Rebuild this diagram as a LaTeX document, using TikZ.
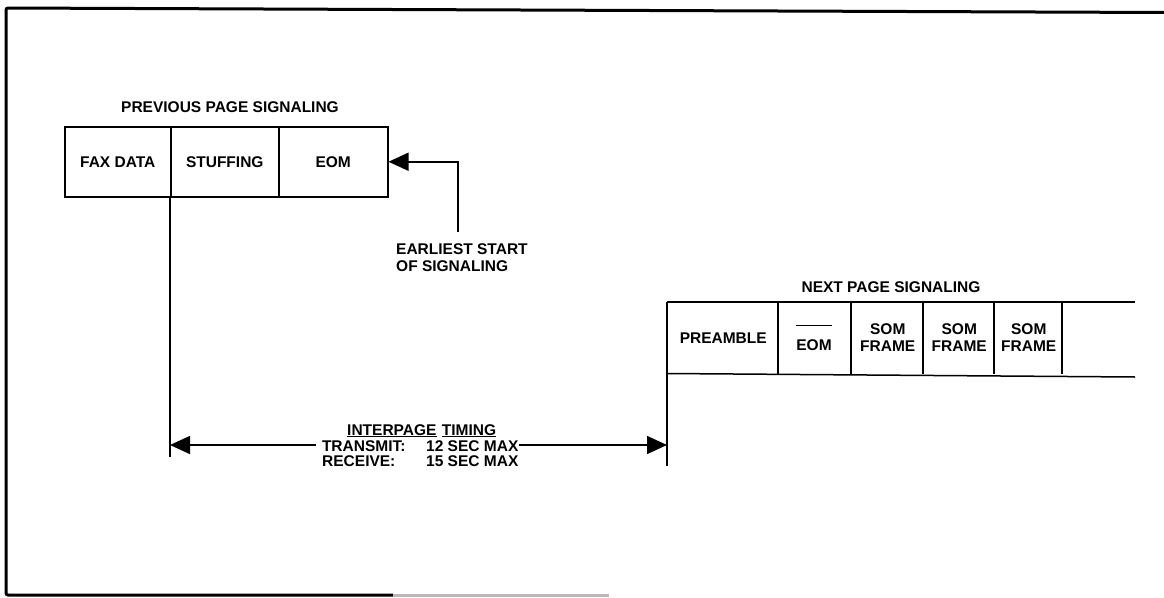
\documentclass[tikz,border=0pt]{standalone}
\usepackage{fontspec}
\setmainfont{Liberation Sans}
\usetikzlibrary{arrows.meta}
\begin{document}
\begin{tikzpicture}[x=1pt,y=-1pt,
  txt/.style={font=\fontsize{15.5}{17}\selectfont\bfseries, inner sep=0pt, align=center},
  cell/.style={draw, line width=1.5pt, minimum height=70pt, inner sep=0pt, anchor=north west,
               font=\fontsize{15.5}{17}\selectfont\bfseries, align=center},
  ncell/.style={cell, draw=none},
  rule/.style={line width=1.5pt},
  frame/.style={line width=3pt},
  arr/.style={line width=1.5pt, -{Triangle[length=20pt,width=18pt]}},
  tim/.style={font=\fontsize{15.5}{15}\selectfont\bfseries, inner sep=0pt},
  uline/.style={line width=1.2pt}
]
\useasboundingbox (0,0) rectangle (1164,597);

% outer frame (open on the right)
\draw[frame, rounded corners=2pt] (1164,12.5) -- (6,8) -- (6,595) -- (393,595);
\draw[frame, gray!55] (393,595) -- (609,595);

% previous page signaling
\node[txt] (ptitle) at (230,107) {PREVIOUS PAGE SIGNALING};
\node[cell, minimum width=106pt] (fax) at (64,126) {FAX DATA};
\node[cell, minimum width=108pt] (stuff) at (170,126) {STUFFING};
\node[cell, minimum width=109pt] (eom) at (278,126) {EOM};

% earliest start arrow
\coordinate (es) at (458,232);
\draw[arr] (es) |- (eom.east);
\node[txt, align=left, anchor=north west] (earl) at (396,243) {EARLIEST START\\OF SIGNALING};

% next page signaling
\node[txt] (ntitle) at (891,287) {NEXT PAGE SIGNALING};
\node[ncell, minimum width=111pt] (pre) at (667,302) {PREAMBLE};
\node[ncell, minimum width=73pt] (neom) at (778,302) {};
\node[ncell, minimum width=72pt] (som1) at (851,302) {SOM\\FRAME};
\node[ncell, minimum width=71pt] (som2) at (923,302) {SOM\\FRAME};
\node[ncell, minimum width=68pt] (som3) at (994,302) {SOM\\FRAME};
\node[ncell, minimum width=73pt] (blank) at (1062,302) {};
\node[txt] (eomt) at (814,345) {EOM};
\draw[line width=1.3pt] ([yshift=14pt]eomt.north west) -- ([yshift=14pt]eomt.north east);

\coordinate (ntop) at (1135,302);
\coordinate (nbot) at (1135,377);
\draw[rule] (pre.north west) -- (ntop);
\draw[rule] (pre.south west) -- (nbot);
\foreach \c in {neom,som1,som2,som3,blank}
  \draw[line width=1.2pt] (\c.north west) -- (\c.south west);

% vertical reference lines
\coordinate (lbot) at (170,457);
\coordinate (rbot) at (667,466);
\draw[line width=1.2pt] (stuff.south west) -- (lbot);
\draw[line width=1.3pt] (pre.north west) -- (rbot);

% interpage timing
\node[tim, anchor=base west] (i1) at (347,435) {INTERPAGE};
\node[tim, anchor=base west] (i2) at ([xshift=5pt]i1.base east) {TIMING};
\draw[uline] ([yshift=-1.8pt]i1.base west) -- ([yshift=-1.8pt]i1.base east);
\draw[uline] ([yshift=-1.8pt]i2.base west) -- ([yshift=-1.8pt]i2.base east);
\node[tim, anchor=base west, outer xsep=6pt] (tx) at (316,451) {TRANSMIT:};
\node[tim, anchor=base west] (t12) at (426,451) {12 SEC MAX};
\node[tim, anchor=base west] (rx) at (322,466) {RECEIVE:};
\node[tim, anchor=base west] (t15) at (426,466) {15 SEC MAX};
\coordinate (ta) at (170,445);
\coordinate (tb) at (667,445);
\draw[arr] (tx.west |- ta) -- (ta);
\draw[arr] (t12.east |- tb) -- (tb);
\end{tikzpicture}
\end{document}
